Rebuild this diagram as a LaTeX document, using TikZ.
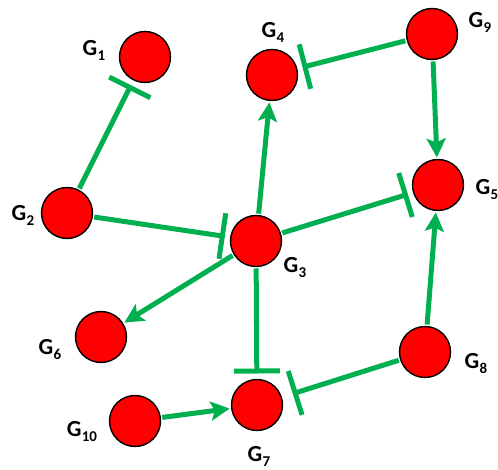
\documentclass[tikz,border=0pt]{standalone}
\usepackage{fontspec}
\setmainfont{Carlito}
\usetikzlibrary{arrows.meta}

\definecolor{netgreen}{RGB}{0,176,80}
\definecolor{netred}{RGB}{255,0,0}

\newcommand{\gn}[1]{G\kern0.3pt\raisebox{-5pt}{\fontsize{15}{15}\selectfont #1}}

\begin{document}
\begin{tikzpicture}[x=1pt,y=-1pt,
  gene/.style={circle,draw=black,line width=1.4pt,fill=netred,minimum size=51pt,inner sep=0pt,outer sep=2pt},
  gname/.style={font=\fontsize{23}{23}\selectfont\bfseries,inner sep=0pt},
  act/.style={draw=netgreen,line width=5pt,-{Stealth[length=19pt,width=19pt,inset=4pt]}},
  inh/.style={draw=netgreen,line width=5pt,-{Bar[width=46pt,line width=5pt]},shorten >=4pt}]
\useasboundingbox (0,0) rectangle (498,470);

\node[gene] (g1) at (145,57) {};
\node[gene] (g2) at (67,213) {};
\node[gene] (g3) at (256,241) {};
\node[gene] (g4) at (272,75) {};
\node[gene] (g5) at (438,185) {};
\node[gene] (g6) at (101,337) {};
\node[gene] (g7) at (257,405) {};
\node[gene] (g8) at (425,352) {};
\node[gene] (g9) at (432,34) {};
\node[gene] (g10) at (135,421) {};

\node[gname] (l1) at (94,50) {\gn{1}};
\node[gname] (l2) at (23,215) {\gn{2}};
\node[gname] (l3) at (295,268) {\gn{3}};
\node[gname] (l4) at (273,32) {\gn{4}};
\node[gname] (l5) at (487,190) {\gn{5}};
\node[gname] (l6) at (50,350) {\gn{6}};
\node[gname] (l7) at (259,456) {\gn{7}};
\node[gname] (l8) at (476,364) {\gn{8}};
\node[gname] (l9) at (480,22) {\gn{9}};
\node[gname] (l10) at (82,432) {\gn{10}};

\draw[inh] (g2) -- (g1);
\draw[inh] (g2) -- (g3);
\draw[inh] (g9) -- (g4);
\draw[inh] (g3) -- (g5);
\draw[inh] (g3) -- (g7);
\draw[inh,shorten >=10pt] (g8) -- (g7);

\draw[act] (g3) -- (g4);
\draw[act] (g9) -- (g5);
\draw[act] (g8) -- (g5);
\draw[act] (g3) -- (g6);
\draw[act] (g10) -- (g7);
\end{tikzpicture}
\end{document}
